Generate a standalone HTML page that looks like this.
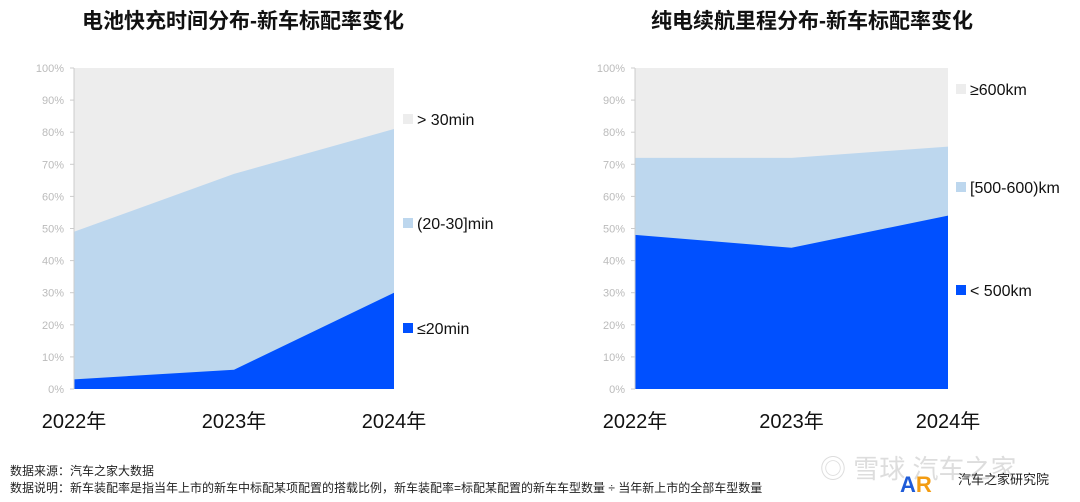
<!DOCTYPE html>
<html><head><meta charset="utf-8">
<style>
body{margin:0;background:#fff;width:1080px;height:502px;overflow:hidden;font-family:"Liberation Sans","Noto Sans CJK SC",sans-serif;}
svg{display:block}
</style></head>
<body>
<svg id="s" width="1080" height="502" xmlns="http://www.w3.org/2000/svg" font-family="Liberation Sans, Noto Sans CJK SC, sans-serif">
<text x="243" y="28" text-anchor="middle" font-size="21" font-weight="bold" fill="#111">电池快充时间分布-新车标配率变化</text>
<text x="812" y="28" text-anchor="middle" font-size="21" font-weight="bold" fill="#111">纯电续航里程分布-新车标配率变化</text>
<text x="10" y="475" font-size="12" fill="#222">数据来源：汽车之家大数据</text>
<text x="10" y="492" font-size="12" fill="#222">数据说明：新车装配率是指当年上市的新车中标配某项配置的搭载比例，新车装配率=标配某配置的新车车型数量 ÷ 当年新上市的全部车型数量</text>
<text x="820" y="478" font-size="26" fill="#ddd">◎ 雪球 汽车之家</text>
<text x="900" y="492" font-size="22" font-weight="bold" fill="#1e5bd8">A<tspan fill="#f39c12">R</tspan></text>
<text x="958" y="484" font-size="13" fill="#222">汽车之家研究院</text>
</svg>
<script>
const years=["2022年","2023年","2024年"];
const leftLow=[3,6,30];
const leftMid=[46,61,51];
const leftLabels=["> 30min","(20-30]min","≤20min"];
const rightLow=[48,44,54];
const rightMid=[24,28,21.5];
const rightLabels=["≥600km","[500-600)km","< 500km"];
const yTicks=[0,10,20,30,40,50,60,70,80,90,100];
const colors=["#ededed","#bdd7ee","#0050ff"];
const NS="http://www.w3.org/2000/svg";
const svg=document.getElementById('s');
function mk(t,a){const e=document.createElementNS(NS,t);for(const k in a)e.setAttribute(k,a[k]);svg.appendChild(e);return e;}
function chart(id,x0,x1,low,mid,labels,legX,legYs){
  const y0=389,yT=68;
  const X=i=>x0+(x1-x0)*i/(years.length-1);
  const Y=v=>y0-(y0-yT)*v/100;
  let r=mk('rect',{x:x0,y:yT,width:x1-x0,height:y0-yT,fill:colors[0]});
  
  
  const cum=low.map((v,i)=>v+mid[i]);
  let p=years.map((_,i)=>X(i)+','+Y(cum[i])).join(' ')+' '+X(years.length-1)+','+y0+' '+x0+','+y0;
  let a=mk('polygon',{points:p,fill:colors[1]});
  
  
  p=years.map((_,i)=>X(i)+','+Y(low[i])).join(' ')+' '+X(years.length-1)+','+y0+' '+x0+','+y0;
  a=mk('polygon',{points:p,fill:colors[2]});
  
  
  const ax=mk('line',{x1:x0,y1:yT,x2:x0,y2:y0,stroke:'#ccc','stroke-width':1});
  
  
  yTicks.forEach(t=>{
    const l=mk('line',{x1:x0-4,y1:Y(t),x2:x0,y2:Y(t),stroke:'#ccc'});
    
    
    const tx=mk('text',{x:x0-10,y:Y(t)+4,'text-anchor':'end','font-size':11,fill:'#bbb'});
    tx.textContent=t+'%';
    
    
  });
  years.forEach((yr,i)=>{
    const tx=mk('text',{x:X(i),y:428,'text-anchor':'middle','font-size':20,fill:'#111'});
    tx.textContent=yr;
    
    
  });
  labels.forEach((lb,i)=>{
    const sq=mk('rect',{x:legX,y:legYs[i]-5,width:10,height:10,fill:colors[i]});
    
    
    const tx=mk('text',{x:legX+14,y:legYs[i]+6,'font-size':16,fill:'#111'});
    tx.textContent=lb;
    
    
  });
}
chart('left',74,394,leftLow,leftMid,leftLabels,403,[119,223,328]);
chart('right',635,948,rightLow,rightMid,rightLabels,956,[89,187,290]);
</script>
</body></html>
